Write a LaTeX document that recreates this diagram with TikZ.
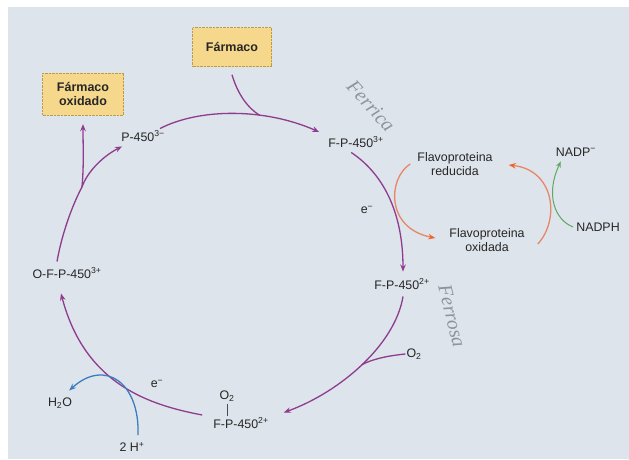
\documentclass[tikz,border=0pt]{standalone}
\usepackage{fontspec}
\setmainfont{Liberation Sans}
\newfontfamily\hand{Liberation Serif}
\usetikzlibrary{arrows.meta,calc}
\definecolor{bg}{HTML}{DDE4EB}
\definecolor{purp}{HTML}{8E3C8E}
\definecolor{boxfill}{HTML}{F6D88C}
\definecolor{boxline}{HTML}{C09A45}
\definecolor{flav}{HTML}{E8866A}
\definecolor{flavtip}{HTML}{F0642A}
\definecolor{grn}{HTML}{5FA862}
\definecolor{blu}{HTML}{3C7DBF}
\definecolor{handc}{HTML}{8E949E}
\tikzset{
  lbl/.style={inner sep=1pt, font=\fontsize{12.4}{13.5}\selectfont, text=black!85, align=center},
  drugbox/.style={draw=boxline, densely dotted, fill=boxfill, inner sep=2pt, font=\bfseries\fontsize{12.5}{13.5}\selectfont, align=center, text=black!85},
  parrow/.style={draw=purp, line width=1.3pt, -{Stealth[length=7pt,width=5.5pt]}},
  pline/.style={draw=purp, line width=1.3pt},
  flavarrow/.style={draw=flav, line width=1.3pt, -{Stealth[length=7pt,width=5.5pt,color=flavtip]}},
  grnarrow/.style={draw=grn, line width=1pt, -{Stealth[length=6pt,width=5pt]}},
  bluarrow/.style={draw=blu, line width=1.3pt, -{Stealth[length=7pt,width=5.5pt]}},
  handw/.style={text=handc, font=\hand\itshape\fontsize{20}{20}\selectfont, inner sep=0pt}
}
\begin{document}
\begin{tikzpicture}[x=1pt,y=-1pt]
\useasboundingbox (0,0) rectangle (629,459);
\fill[white] (0,0) rectangle (629,459);
\fill[bg] (8,7) rectangle (629,459);

% nodes
\node[drugbox, minimum width=79pt, minimum height=39pt] (farm) at (232,47) {Fármaco};
\node[drugbox, minimum width=81pt, minimum height=42pt] (farmox) at (83,94) {Fármaco\\oxidado};
\node[lbl] (p3) at (143,136) {P-450\textsuperscript{3−}};
\node[lbl] (fp3) at (356,142) {F-P-450\textsuperscript{3+}};
\node[lbl] (fpr) at (455,164) {Flavoproteina\\reducida};
\node[lbl] (fpo) at (487,240) {Flavoproteina\\oxidada};
\node[lbl] (nadp) at (576,152) {NADP\textsuperscript{−}};
\node[lbl] (nadph) at (598,227) {NADPH};
\node[lbl] (e1) at (367,210) {e\textsuperscript{−}};
\node[lbl] (fp2) at (402,284) {F-P-450\textsuperscript{2+}};
\node[lbl] (o2r) at (414,354) {O\textsubscript{2}};
\node[lbl] (o2b) at (227,396) {O\textsubscript{2}};
\node[lbl] (fpb) at (241,423) {F-P-450\textsuperscript{2+}};
\node[lbl] (e2) at (157,384) {e\textsuperscript{−}};
\node[lbl] (h2o) at (60,403) {H\textsubscript{2}O};
\node[lbl] (h2) at (132,447) {2 H\textsuperscript{+}};
\node[lbl] (ofp) at (67,273) {O-F-P-450\textsuperscript{3+}};
\node[handw, rotate=-48] (ferrica) at (371,106) {Ferrica};
\node[handw, rotate=-76] (ferrosa) at (452,316) {Ferrosa};

% O2 bond
\draw[black!70, line width=0.7pt] ($(o2b.south)+(0,1)$) -- ($(fpb.north)+(-14,-1)$);

% cycle
\draw[parrow] ($(p3.north east)+(-6,-1)$) .. controls (200,108) and (265,108) .. ($(fp3.west)+(-8,-10)$) coordinate[pos=0.65] (j1);
\draw[pline] ($(farm.south)+(0,8)$) .. controls (238,95) and (248,108) .. (j1);
\draw[parrow] ($(fp3.south west)+(24,4)$) .. controls (385,175) and (403,215) .. ($(fp2.north)+(1,-6)$);
\draw[parrow] ($(fp2.south)+(1,6)$) .. controls (395,345) and (340,392) .. ($(fpb.north east)+(14,-4)$) coordinate[pos=0.5] (j3);
\draw[pline] (o2r.west) .. controls (385,356) and (370,360) .. (j3);
\draw[parrow] ($(fpb.west)+(-10,-8)$) .. controls (150,405) and (85,385) .. ($(ofp.south)+(-6,14)$);
\coordinate (bp) at (82,187);
\draw[pline] ($(ofp.north)+(-10,-5)$) .. controls (63,228) and (75,200) .. (bp);
\draw[parrow] (bp) .. controls (84,165) and (83,145) .. ($(farmox.south)+(0,9)$);
\draw[parrow] (bp) .. controls (88,170) and (105,155) .. ($(p3.south west)+(2,4)$);

% blue
\draw[bluarrow] ($(h2.north)+(6,-6)$) .. controls (140,383) and (105,358) .. ($(h2o.north east)+(-4,-6)$);

% flavoprotein loop
\draw[flavarrow] ($(fpr.west)+(-6,0)$) .. controls (388,178) and (385,228) .. ($(fpo.west)+(-13,-2)$);
\draw[flavarrow] ($(fpo.east)+(12,4)$) .. controls (560,220) and (555,170) .. ($(fpr.east)+(15,1)$);
\draw[grnarrow] ($(nadph.west)+(-2,0)$) .. controls (555,220) and (545,195) .. ($(nadp.south west)+(6,4)$);
\end{tikzpicture}
\end{document}
